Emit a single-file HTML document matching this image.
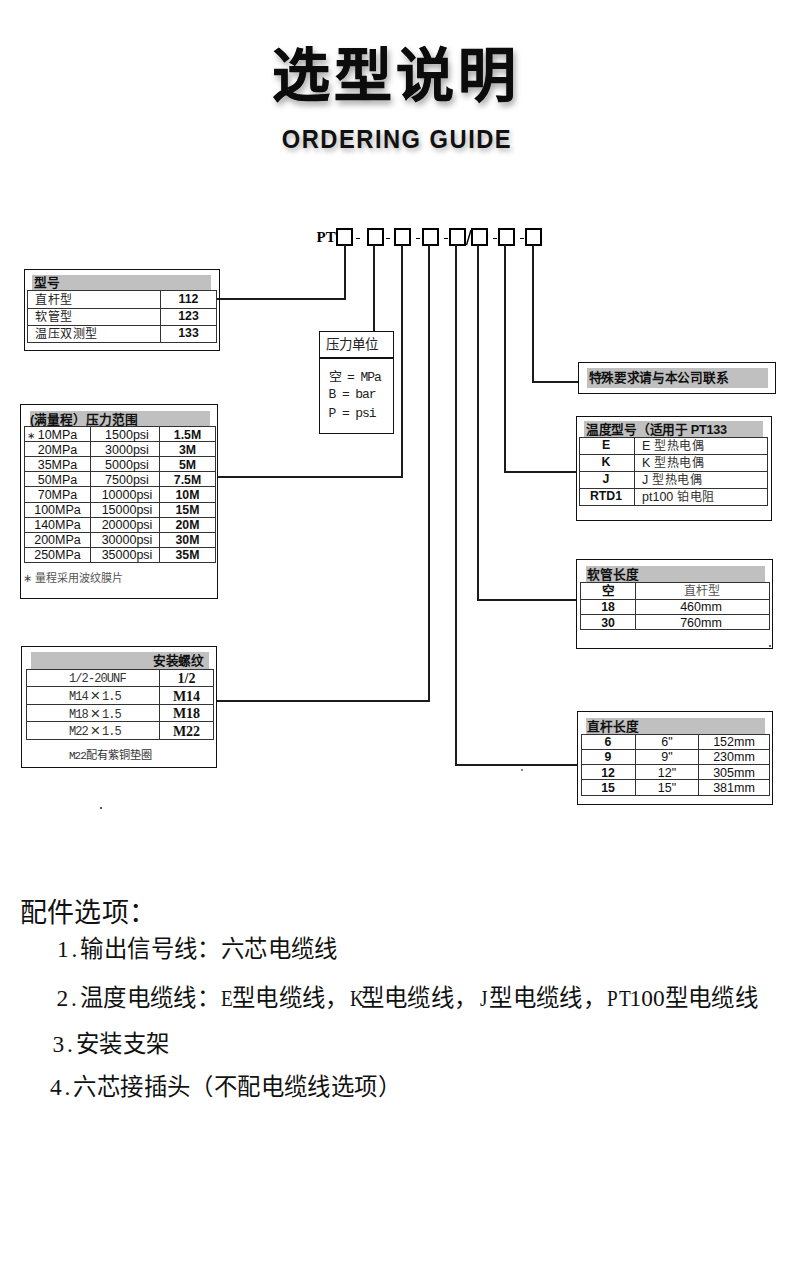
<!DOCTYPE html>
<html lang="zh-CN"><head><meta charset="utf-8"><title>选型说明</title><style>
html,body{margin:0;padding:0;background:#fff;}
body{width:790px;height:1268px;position:relative;overflow:hidden;font-family:"Liberation Sans",sans-serif;color:#111;}
.a{position:absolute;}
.t{white-space:nowrap;line-height:1;}
.title{font-size:58px;font-weight:900;color:#0c0c0c;letter-spacing:4px;-webkit-text-stroke:0.5px #0c0c0c;text-shadow:2px 4px 6px rgba(0,0,0,0.38);}
.sub{font-size:25.5px;font-weight:700;color:#111;letter-spacing:1.6px;transform:scaleX(0.93);text-shadow:2px 3px 5px rgba(0,0,0,0.3);}
.pt{font-family:"Liberation Serif",serif;font-weight:700;font-size:15px;line-height:20px;color:#000;}
.hb{font-size:12.7px;font-weight:700;color:#111;line-height:14px;}
.cn12{font-size:12px;letter-spacing:0.6px;color:#222;line-height:14px;}
.cn12g{font-size:12px;color:#555;line-height:14px;}
.cn11g{font-size:11px;color:#555;line-height:14px;}
.cn14{font-size:13.5px;color:#222;line-height:16px;}
.nb12{font-size:12.3px;font-weight:700;color:#111;line-height:14px;}
.n12{font-size:12.5px;color:#111;line-height:14px;}
.n12c{font-size:12.5px;color:#222;line-height:14px;}
.cj{font-size:12px;letter-spacing:0.8px;color:#333;}
.mono{font-family:"Liberation Mono",monospace;font-size:13px;letter-spacing:-1.1px;color:#222;line-height:16px;}
.smono{font-family:"Liberation Mono",monospace;font-size:12px;letter-spacing:-0.9px;color:#333;line-height:14px;}
.sb14{font-family:"Liberation Serif",serif;font-weight:700;font-size:14px;color:#111;line-height:16px;}
.note{font-family:"Liberation Mono",monospace;font-size:11px;letter-spacing:-1px;color:#333;line-height:14px;}
.star{font-size:10px;color:#222;line-height:14px;}
.star2{font-size:11px;color:#444;line-height:14px;}
.big27{font-size:27px;letter-spacing:0.2px;color:#111;line-height:32px;}
.big23{font-size:23.4px;letter-spacing:0.4px;color:#111;line-height:28px;}
.m{font-family:"Liberation Serif",serif;}
.x{display:inline-block;width:14px;text-align:center;font-size:17px;line-height:10px;vertical-align:-1px;}
.cn{font-family:"Liberation Sans",sans-serif;font-size:11.2px;letter-spacing:0;}
.c{display:inline-block;width:0.5em;text-align:center;font-family:"Liberation Serif",serif;letter-spacing:0;}
.u{transform:scaleX(0.82);}

</style></head><body>
<div class="a t title" style="left:196.0px;top:47px;width:400px;text-align:center;">选型说明</div>
<div class="a t sub" style="left:197.0px;top:127px;width:400px;text-align:center;">ORDERING GUIDE</div>
<div class="a t pt" style="left:316.5px;top:227px;">PT</div>
<div class="a" style="left:336px;top:228px;width:17px;height:17.5px;border:2px solid #000;box-sizing:border-box;"></div>
<div class="a" style="left:367px;top:228px;width:17px;height:17.5px;border:2px solid #000;box-sizing:border-box;"></div>
<div class="a" style="left:394px;top:228px;width:17px;height:17.5px;border:2px solid #000;box-sizing:border-box;"></div>
<div class="a" style="left:421.5px;top:228px;width:17.0px;height:17.5px;border:2px solid #000;box-sizing:border-box;"></div>
<div class="a" style="left:449px;top:228px;width:17px;height:17.5px;border:2px solid #000;box-sizing:border-box;"></div>
<div class="a" style="left:471px;top:228px;width:17px;height:17.5px;border:2px solid #000;box-sizing:border-box;"></div>
<div class="a" style="left:498px;top:228px;width:17px;height:17.5px;border:2px solid #000;box-sizing:border-box;"></div>
<div class="a" style="left:525px;top:228px;width:17px;height:17.5px;border:2px solid #000;box-sizing:border-box;"></div>
<div class="a" style="left:356px;top:237.7px;width:4.199999999999989px;height:1.6000000000000227px;background:#000"></div>
<div class="a" style="left:386px;top:237.7px;width:4.199999999999989px;height:1.6000000000000227px;background:#000"></div>
<div class="a" style="left:416px;top:237.7px;width:4.199999999999989px;height:1.6000000000000227px;background:#000"></div>
<div class="a" style="left:444px;top:237.7px;width:4.199999999999989px;height:1.6000000000000227px;background:#000"></div>
<div class="a" style="left:493px;top:237.7px;width:4.199999999999989px;height:1.6000000000000227px;background:#000"></div>
<div class="a" style="left:520px;top:237.7px;width:4.2000000000000455px;height:1.6000000000000227px;background:#000"></div>
<svg class="a" style="left:460px;top:225px" width="20" height="25"><line x1="6.5" y1="20" x2="11" y2="5" stroke="#000" stroke-width="1.4"/></svg>
<div class="a" style="left:344.0px;top:245px;width:2.0px;height:54.5px;background:#1c1c1c"></div>
<div class="a" style="left:217px;top:297.5px;width:129px;height:2.0px;background:#1c1c1c"></div>
<div class="a" style="left:373.0px;top:245px;width:2.0px;height:86px;background:#1c1c1c"></div>
<div class="a" style="left:401.0px;top:245px;width:2.0px;height:233px;background:#1c1c1c"></div>
<div class="a" style="left:217px;top:476.0px;width:186px;height:2.0px;background:#1c1c1c"></div>
<div class="a" style="left:428.0px;top:245px;width:2.0px;height:456.5px;background:#1c1c1c"></div>
<div class="a" style="left:216px;top:699.5px;width:214px;height:2.0px;background:#1c1c1c"></div>
<div class="a" style="left:454.5px;top:245px;width:2.0px;height:520.5px;background:#1c1c1c"></div>
<div class="a" style="left:454.5px;top:763.6px;width:122.5px;height:2.0px;background:#1c1c1c"></div>
<div class="a" style="left:476.5px;top:245px;width:2.0px;height:355.5px;background:#1c1c1c"></div>
<div class="a" style="left:476.5px;top:598.5px;width:100.5px;height:2.0px;background:#1c1c1c"></div>
<div class="a" style="left:503.5px;top:245px;width:2.0px;height:228px;background:#1c1c1c"></div>
<div class="a" style="left:503.5px;top:471.2px;width:72.5px;height:2.0px;background:#1c1c1c"></div>
<div class="a" style="left:532.0px;top:245px;width:2.0px;height:137.5px;background:#1c1c1c"></div>
<div class="a" style="left:532px;top:380.5px;width:46px;height:2.0px;background:#1c1c1c"></div>
<div class="a" style="left:24px;top:268.5px;width:196px;height:82.0px;border:1px solid #111;box-sizing:border-box;"></div>
<div class="a" style="left:32px;top:274.5px;width:179px;height:15.5px;background:#c0c0c0"></div>
<div class="a" style="left:26.5px;top:290px;width:190.5px;height:53px;border:1px solid #333;box-sizing:border-box;"></div>
<div class="a" style="left:26.5px;top:307.5px;width:190.5px;height:1.0px;background:#333"></div>
<div class="a" style="left:26.5px;top:324.5px;width:190.5px;height:1.0px;background:#333"></div>
<div class="a" style="left:160.0px;top:290px;width:1.0px;height:53px;background:#333"></div>
<div class="a t hb" style="left:33.5px;top:276px;">型号</div>
<div class="a t cn12" style="left:35px;top:293px;">直杆型</div>
<div class="a t cn12" style="left:35px;top:310px;">软管型</div>
<div class="a t cn12" style="left:35px;top:327px;">温压双测型</div>
<div class="a t nb12" style="left:158.5px;top:292px;width:60px;text-align:center;">112</div>
<div class="a t nb12" style="left:158.5px;top:309px;width:60px;text-align:center;">123</div>
<div class="a t nb12" style="left:158.5px;top:326px;width:60px;text-align:center;">133</div>
<div class="a" style="left:318.5px;top:330.5px;width:75.5px;height:103.5px;border:1px solid #111;box-sizing:border-box;"></div>
<div class="a" style="left:318.5px;top:357.25px;width:75.5px;height:1.5px;background:#111"></div>
<div class="a t cn14" style="left:326px;top:337px;">压力单位</div>
<div class="a t mono" style="left:328.5px;top:370px;">空 = MPa</div>
<div class="a t mono" style="left:328.5px;top:387px;">B = bar</div>
<div class="a t mono" style="left:328.5px;top:406px;">P = psi</div>
<div class="a" style="left:20px;top:404px;width:197.5px;height:194.5px;border:1px solid #111;box-sizing:border-box;"></div>
<div class="a" style="left:30px;top:410.5px;width:180px;height:15.5px;background:#c0c0c0"></div>
<div class="a" style="left:24px;top:426px;width:191.5px;height:137px;border:1px solid #333;box-sizing:border-box;"></div>
<div class="a" style="left:24px;top:441.1px;width:191.5px;height:1.0px;background:#333"></div>
<div class="a" style="left:24px;top:456.2px;width:191.5px;height:1.0px;background:#333"></div>
<div class="a" style="left:24px;top:471.3px;width:191.5px;height:1.0px;background:#333"></div>
<div class="a" style="left:24px;top:486.4px;width:191.5px;height:1.0px;background:#333"></div>
<div class="a" style="left:24px;top:501.5px;width:191.5px;height:1.0px;background:#333"></div>
<div class="a" style="left:24px;top:516.6px;width:191.5px;height:1.0px;background:#333"></div>
<div class="a" style="left:24px;top:531.7px;width:191.5px;height:1.0px;background:#333"></div>
<div class="a" style="left:24px;top:546.8px;width:191.5px;height:1.0px;background:#333"></div>
<div class="a" style="left:90.0px;top:426px;width:1.0px;height:137px;background:#333"></div>
<div class="a" style="left:159.0px;top:426px;width:1.0px;height:137px;background:#333"></div>
<div class="a t hb" style="left:30px;top:412.5px;">(满量程）压力范围</div>
<div class="a t n12" style="left:24.5px;top:427.5px;width:66px;text-align:center;">10MPa</div>
<div class="a t n12" style="left:93.0px;top:427.5px;width:68px;text-align:center;">1500psi</div>
<div class="a t nb12" style="left:159.5px;top:427.5px;width:56px;text-align:center;">1.5M</div>
<div class="a t n12" style="left:24.5px;top:442.6px;width:66px;text-align:center;">20MPa</div>
<div class="a t n12" style="left:93.0px;top:442.6px;width:68px;text-align:center;">3000psi</div>
<div class="a t nb12" style="left:159.5px;top:442.6px;width:56px;text-align:center;">3M</div>
<div class="a t n12" style="left:24.5px;top:457.7px;width:66px;text-align:center;">35MPa</div>
<div class="a t n12" style="left:93.0px;top:457.7px;width:68px;text-align:center;">5000psi</div>
<div class="a t nb12" style="left:159.5px;top:457.7px;width:56px;text-align:center;">5M</div>
<div class="a t n12" style="left:24.5px;top:472.8px;width:66px;text-align:center;">50MPa</div>
<div class="a t n12" style="left:93.0px;top:472.8px;width:68px;text-align:center;">7500psi</div>
<div class="a t nb12" style="left:159.5px;top:472.8px;width:56px;text-align:center;">7.5M</div>
<div class="a t n12" style="left:24.5px;top:487.9px;width:66px;text-align:center;">70MPa</div>
<div class="a t n12" style="left:93.0px;top:487.9px;width:68px;text-align:center;">10000psi</div>
<div class="a t nb12" style="left:159.5px;top:487.9px;width:56px;text-align:center;">10M</div>
<div class="a t n12" style="left:24.5px;top:503.0px;width:66px;text-align:center;">100MPa</div>
<div class="a t n12" style="left:93.0px;top:503.0px;width:68px;text-align:center;">15000psi</div>
<div class="a t nb12" style="left:159.5px;top:503.0px;width:56px;text-align:center;">15M</div>
<div class="a t n12" style="left:24.5px;top:518.1px;width:66px;text-align:center;">140MPa</div>
<div class="a t n12" style="left:93.0px;top:518.1px;width:68px;text-align:center;">20000psi</div>
<div class="a t nb12" style="left:159.5px;top:518.1px;width:56px;text-align:center;">20M</div>
<div class="a t n12" style="left:24.5px;top:533.2px;width:66px;text-align:center;">200MPa</div>
<div class="a t n12" style="left:93.0px;top:533.2px;width:68px;text-align:center;">30000psi</div>
<div class="a t nb12" style="left:159.5px;top:533.2px;width:56px;text-align:center;">30M</div>
<div class="a t n12" style="left:24.5px;top:548.3px;width:66px;text-align:center;">250MPa</div>
<div class="a t n12" style="left:93.0px;top:548.3px;width:68px;text-align:center;">35000psi</div>
<div class="a t nb12" style="left:159.5px;top:548.3px;width:56px;text-align:center;">35M</div>
<div class="a t star" style="left:27px;top:428.5px;">∗</div>
<div class="a t star2" style="left:23px;top:571px;">∗</div>
<div class="a t cn11g" style="left:35px;top:571px;">量程采用波纹膜片</div>
<div class="a" style="left:21px;top:645.5px;width:196px;height:122.5px;border:1px solid #111;box-sizing:border-box;"></div>
<div class="a" style="left:30.5px;top:652px;width:178.5px;height:17px;background:#c0c0c0"></div>
<div class="a" style="left:25.5px;top:669px;width:188.5px;height:71px;border:1px solid #333;box-sizing:border-box;"></div>
<div class="a" style="left:25.5px;top:686.0px;width:188.5px;height:1.0px;background:#333"></div>
<div class="a" style="left:25.5px;top:703.5px;width:188.5px;height:1.0px;background:#333"></div>
<div class="a" style="left:25.5px;top:721.0px;width:188.5px;height:1.0px;background:#333"></div>
<div class="a" style="left:159.0px;top:669px;width:1.0px;height:71px;background:#333"></div>
<div class="a t hb" style="left:-96px;top:653.5px;width:300px;text-align:right;letter-spacing:-0.2px">安装螺纹</div>
<div class="a t smono" style="left:69px;top:671.5px;">1/2-20UNF</div>
<div class="a t smono" style="left:69px;top:690px;">M14<span class=x>×</span>1.5</div>
<div class="a t smono" style="left:69px;top:707.5px;">M18<span class=x>×</span>1.5</div>
<div class="a t smono" style="left:69px;top:725px;">M22<span class=x>×</span>1.5</div>
<div class="a t sb14" style="left:159.5px;top:671px;width:54px;text-align:center;">1/2</div>
<div class="a t sb14" style="left:159.5px;top:688.5px;width:54px;text-align:center;">M14</div>
<div class="a t sb14" style="left:159.5px;top:706px;width:54px;text-align:center;">M18</div>
<div class="a t sb14" style="left:159.5px;top:723.5px;width:54px;text-align:center;">M22</div>
<div class="a t note" style="left:69px;top:748px;">M22<span class=cn>配有紫铜垫圈</span></div>
<div class="a" style="left:578px;top:362px;width:198px;height:31.5px;border:1px solid #111;box-sizing:border-box;"></div>
<div class="a" style="left:587px;top:367.5px;width:181px;height:20.5px;background:#c0c0c0"></div>
<div class="a t hb" style="left:588.5px;top:371px;letter-spacing:-0.3px">特殊要求请与本公司联系</div>
<div class="a" style="left:576px;top:415.5px;width:195.5px;height:105.5px;border:1px solid #111;box-sizing:border-box;"></div>
<div class="a" style="left:584px;top:421px;width:179px;height:16px;background:#c0c0c0"></div>
<div class="a" style="left:578.5px;top:437px;width:189.5px;height:69px;border:1px solid #333;box-sizing:border-box;"></div>
<div class="a" style="left:578.5px;top:454.0px;width:189.5px;height:1.0px;background:#333"></div>
<div class="a" style="left:578.5px;top:471.0px;width:189.5px;height:1.0px;background:#333"></div>
<div class="a" style="left:578.5px;top:488.0px;width:189.5px;height:1.0px;background:#333"></div>
<div class="a" style="left:634.0px;top:437px;width:1.0px;height:69px;background:#333"></div>
<div class="a t hb" style="left:586px;top:422.5px;letter-spacing:-0.3px">温度型号（适用于 PT133</div>
<div class="a t nb12" style="left:578.0px;top:438.0px;width:56px;text-align:center;">E</div>
<div class="a t n12c" style="left:642px;top:439.0px;">E <span class=cj>型热电偶</span></div>
<div class="a t nb12" style="left:578.0px;top:455.1px;width:56px;text-align:center;">K</div>
<div class="a t n12c" style="left:642px;top:456.1px;">K <span class=cj>型热电偶</span></div>
<div class="a t nb12" style="left:578.0px;top:472.2px;width:56px;text-align:center;">J</div>
<div class="a t n12c" style="left:642px;top:473.2px;">J <span class=cj>型热电偶</span></div>
<div class="a t nb12" style="left:578.0px;top:489.3px;width:56px;text-align:center;">RTD1</div>
<div class="a t n12c" style="left:642px;top:490.3px;">pt100 <span class=cj>铂电阻</span></div>
<div class="a" style="left:576px;top:559px;width:197px;height:90px;border:1px solid #111;box-sizing:border-box;"></div>
<div class="a" style="left:586px;top:566px;width:179px;height:16px;background:#c0c0c0"></div>
<div class="a" style="left:580px;top:582px;width:189.5px;height:48px;border:1px solid #333;box-sizing:border-box;"></div>
<div class="a" style="left:580px;top:598.5px;width:189.5px;height:1.0px;background:#333"></div>
<div class="a" style="left:580px;top:614.0px;width:189.5px;height:1.0px;background:#333"></div>
<div class="a" style="left:635.0px;top:582px;width:1.0px;height:48px;background:#333"></div>
<div class="a t hb" style="left:587px;top:568px;">软管长度</div>
<div class="a t hb" style="left:580.0px;top:584px;width:56px;text-align:center;">空</div>
<div class="a t nb12" style="left:580.0px;top:600px;width:56px;text-align:center;">18</div>
<div class="a t nb12" style="left:580.0px;top:615.5px;width:56px;text-align:center;">30</div>
<div class="a t cn12g" style="left:637.0px;top:583.5px;width:130px;text-align:center;">直杆型</div>
<div class="a t n12" style="left:636.0px;top:600px;width:130px;text-align:center;">460mm</div>
<div class="a t n12" style="left:636.0px;top:615.5px;width:130px;text-align:center;">760mm</div>
<div class="a" style="left:576.5px;top:711px;width:196.0px;height:94px;border:1px solid #111;box-sizing:border-box;"></div>
<div class="a" style="left:586px;top:717.5px;width:179px;height:16.5px;background:#c0c0c0"></div>
<div class="a" style="left:580.5px;top:734px;width:189.0px;height:61.5px;border:1px solid #333;box-sizing:border-box;"></div>
<div class="a" style="left:580.5px;top:749.0px;width:189.0px;height:1.0px;background:#333"></div>
<div class="a" style="left:580.5px;top:764.1px;width:189.0px;height:1.0px;background:#333"></div>
<div class="a" style="left:580.5px;top:779.3px;width:189.0px;height:1.0px;background:#333"></div>
<div class="a" style="left:635.0px;top:734px;width:1.0px;height:61.5px;background:#333"></div>
<div class="a" style="left:698.0px;top:734px;width:1.0px;height:61.5px;background:#333"></div>
<div class="a t hb" style="left:587px;top:719.5px;">直杆长度</div>
<div class="a t nb12" style="left:580.0px;top:735.2px;width:56px;text-align:center;">6</div>
<div class="a t n12" style="left:637.0px;top:735.2px;width:60px;text-align:center;">6"</div>
<div class="a t n12" style="left:699.0px;top:735.2px;width:70px;text-align:center;">152mm</div>
<div class="a t nb12" style="left:580.0px;top:750.4000000000001px;width:56px;text-align:center;">9</div>
<div class="a t n12" style="left:637.0px;top:750.4000000000001px;width:60px;text-align:center;">9"</div>
<div class="a t n12" style="left:699.0px;top:750.4000000000001px;width:70px;text-align:center;">230mm</div>
<div class="a t nb12" style="left:580.0px;top:765.6px;width:56px;text-align:center;">12</div>
<div class="a t n12" style="left:637.0px;top:765.6px;width:60px;text-align:center;">12"</div>
<div class="a t n12" style="left:699.0px;top:765.6px;width:70px;text-align:center;">305mm</div>
<div class="a t nb12" style="left:580.0px;top:780.8000000000001px;width:56px;text-align:center;">15</div>
<div class="a t n12" style="left:637.0px;top:780.8000000000001px;width:60px;text-align:center;">15"</div>
<div class="a t n12" style="left:699.0px;top:780.8000000000001px;width:70px;text-align:center;">381mm</div>
<div class="a" style="left:99.5px;top:806.5px;width:2.0px;height:2.0px;background:#555"></div>
<div class="a" style="left:521px;top:769px;width:1.5px;height:1.5px;background:#888"></div>
<div class="a" style="left:769px;top:645px;width:1.5px;height:1.5px;background:#666"></div>
<div class="a t big27" style="left:20px;top:897px;">配件选项：</div>
<div class="a t big23" style="left:57px;top:935px;"><span class="c">1</span><span class="c">.</span>输出信号线：六芯电缆线</div>
<div class="a t big23" style="left:56.4px;top:984px;"><span class="c">2</span><span class="c">.</span>温度电缆线：<span class="c u">E</span>型电缆线，<span class="c u">K</span>型电缆线，<span class="c u">J</span>型电缆线，<span class="c u">P</span><span class="c u">T</span><span class="c">1</span><span class="c">0</span><span class="c">0</span>型电缆线</div>
<div class="a t big23" style="left:52.4px;top:1030px;"><span class="c">3</span><span class="c">.</span>安装支架</div>
<div class="a t big23" style="left:50px;top:1073px;"><span class="c">4</span><span class="c">.</span>六芯接插头（不配电缆线选项）</div>
</body></html>
